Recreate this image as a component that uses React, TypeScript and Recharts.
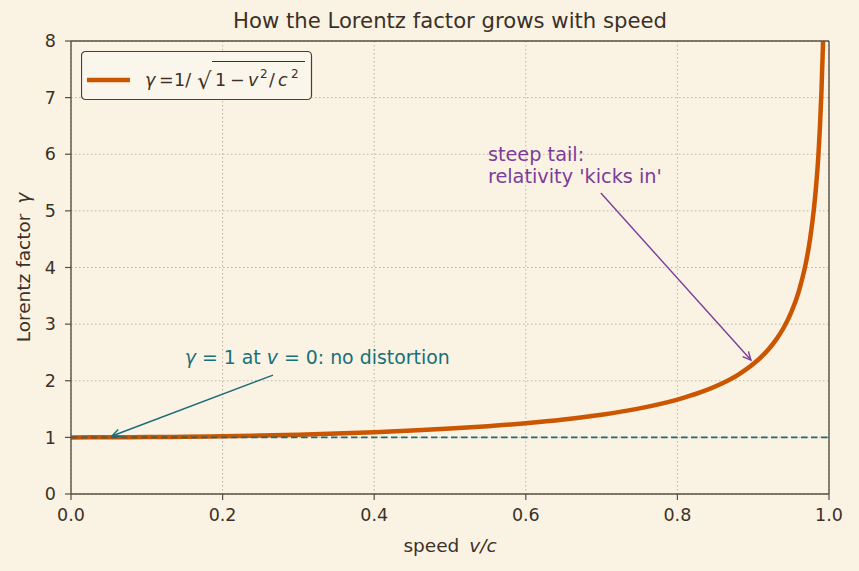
import React from "react";
import {
  ComposedChart,
  Line,
  XAxis,
  YAxis,
  CartesianGrid,
  ReferenceLine,
  ReferenceDot,
} from "recharts";

// speed v/c and the Lorentz factor
const speed = [
  0, 0.05, 0.1, 0.15, 0.2, 0.25, 0.3, 0.35, 0.4, 0.45, 0.5, 0.55, 0.6, 0.65,
  0.7, 0.75, 0.8, 0.83, 0.86, 0.88, 0.9, 0.92, 0.93, 0.94, 0.95, 0.96, 0.965,
  0.97, 0.975, 0.98, 0.983, 0.986, 0.988, 0.99, 0.992, 0.994,
];
const gamma = [
  1.0, 1.001, 1.005, 1.011, 1.021, 1.033, 1.048, 1.068, 1.091, 1.12, 1.155,
  1.197, 1.25, 1.316, 1.4, 1.512, 1.667, 1.793, 1.96, 2.105, 2.294, 2.552,
  2.721, 2.931, 3.203, 3.571, 3.818, 4.113, 4.502, 5.025, 5.439, 5.98, 6.468,
  7.089, 7.917, 9.142,
];

const xTicks = [0, 0.2, 0.4, 0.6, 0.8, 1.0];
const yTicks = [0, 1, 2, 3, 4, 5, 6, 7, 8];

// annotation anchors, in data units (v/c, gamma)
const restText = { v: 0.15, g: 2.3 };
const restArrow = [
  { x: 0.2665, y: 2.1 },
  { x: 0.0541, y: 1.024 },
];
const tailText = { v: 0.55, g: 5.5 };
const tailArrow = [
  { x: 0.699, y: 5.316 },
  { x: 0.897, y: 2.366 },
];

const data = speed.map((v, i) => ({ v, gamma: gamma[i] }));

const BG = "#faf3e3";
const INK = "#3b3128";
const SPINE = "#5a4e44";
const GRID = "#bdb3a3";
const ORANGE = "#cc5500";
const TEAL = "#1c6b78";
const TEAL_TXT = "#17717a";
const PURPLE = "#7a3d9a";
const FONT = "DejaVu Sans";

function Arrow(props: any) {
  const { x1, y1, x2, y2, stroke } = props;
  const ang = Math.atan2(y2 - y1, x2 - x1);
  const len = 9;
  const spread = 0.45;
  const ax = x2 - len * Math.cos(ang - spread);
  const ay = y2 - len * Math.sin(ang - spread);
  const bx = x2 - len * Math.cos(ang + spread);
  const by = y2 - len * Math.sin(ang + spread);
  return (
    <g>
      <line x1={x1} y1={y1} x2={x2} y2={y2} stroke={stroke} strokeWidth={1.4} />
      <polyline
        points={`${ax},${ay} ${x2},${y2} ${bx},${by}`}
        fill="none"
        stroke={stroke}
        strokeWidth={1.4}
      />
    </g>
  );
}

function RestLabel(props: any) {
  const { cx, cy } = props;
  return (
    <text x={cx} y={cy} fill={TEAL_TXT} fontSize={18.9} fontFamily={FONT}>
      <tspan fontStyle="italic">γ</tspan>
      <tspan> = 1 at </tspan>
      <tspan fontStyle="italic">v</tspan>
      <tspan> = 0: no distortion</tspan>
    </text>
  );
}

function TailLabel(props: any) {
  const { cx, cy } = props;
  return (
    <text x={cx} y={cy} fill={PURPLE} fontSize={19.3} fontFamily={FONT}>
      <tspan x={cx} dy={-22}>
        steep tail:
      </tspan>
      <tspan x={cx} dy={22}>
        relativity 'kicks in'
      </tspan>
    </text>
  );
}

function LegendBox() {
  const base = 35;
  return (
    <svg
      width={232}
      height={50}
      style={{ position: "absolute", left: 81, top: 51, display: "block" }}
    >
      <rect
        x={0.5}
        y={0.5}
        width={230}
        height={48}
        rx={4}
        fill="#fbf6ec"
        stroke="#4a3f35"
        strokeWidth={1.2}
      />
      <line x1={6} x2={49} y1={29} y2={29} stroke={ORANGE} strokeWidth={4.5} />
      <g fill={INK} fontSize={17.5} fontFamily={FONT}>
        <text x={64} y={base} fontStyle="italic">γ</text>
        <text x={78} y={base}>=</text>
        <text x={93} y={base}>1/</text>
        <text x={116} y={base + 3} fontSize={23}>√</text>
        <text x={134} y={base}>1</text>
        <text x={149} y={base}>−</text>
        <text x={167} y={base} fontStyle="italic">v</text>
        <text x={179} y={base - 8} fontSize={12}>2</text>
        <text x={188} y={base}>/</text>
        <text x={197} y={base} fontStyle="italic">c</text>
        <text x={210} y={base - 8} fontSize={12}>2</text>
      </g>
      <line x1={131} x2={224} y1={10.5} y2={10.5} stroke={INK} strokeWidth={1} />
    </svg>
  );
}

function XLabel(props: any) {
  const { viewBox } = props;
  const cx = viewBox.x + viewBox.width / 2;
  return (
    <text x={cx} y={viewBox.y + 58} textAnchor="middle" fill={INK} fontSize={18.5} fontFamily={FONT}>
      <tspan>speed</tspan>
      <tspan dx={10} fontStyle="italic">v/c</tspan>
    </text>
  );
}

function YLabel(props: any) {
  const { viewBox } = props;
  const cy = viewBox.y + viewBox.height / 2;
  const x = 30;
  return (
    <text
      x={x}
      y={cy}
      transform={`rotate(-90, ${x}, ${cy})`}
      textAnchor="middle"
      fill={INK}
      fontSize={18.5}
      fontFamily={FONT}
    >
      <tspan>Lorentz factor</tspan>
      <tspan dx={10} fontStyle="italic">γ</tspan>
    </text>
  );
}

export default function App() {
  const tick = { fill: INK, fontSize: 17.5, fontFamily: FONT };
  return (
    <div
      style={{
        position: "absolute",
        left: 0,
        top: 0,
        width: 859,
        height: 571,
        background: BG,
      }}
    >
      <ComposedChart
        width={859}
        height={571}
        data={data}
        margin={{ top: 41, right: 30, bottom: 0, left: 0 }}
      >
        <CartesianGrid
          stroke={GRID}
          strokeDasharray="1.5 2.5"
          horizontalValues={yTicks}
          verticalValues={xTicks}
        />
        <XAxis
          dataKey="v"
          type="number"
          domain={[0, 1]}
          ticks={xTicks}
          tickFormatter={(t: number) => t.toFixed(1)}
          height={77}
          tickSize={6}
          tickMargin={9}
          tick={tick}
          stroke={SPINE}
          axisLine={{ stroke: SPINE, strokeWidth: 1.4 }}
          tickLine={{ stroke: SPINE, strokeWidth: 1.2 }}
          label={{ content: (p: any) => <XLabel {...p} /> }}
        />
        <YAxis
          type="number"
          domain={[0, 8]}
          ticks={yTicks}
          allowDataOverflow
          width={71}
          tickSize={6}
          tickMargin={9}
          tick={tick}
          stroke={SPINE}
          axisLine={{ stroke: SPINE, strokeWidth: 1.4 }}
          tickLine={{ stroke: SPINE, strokeWidth: 1.2 }}
          label={{ content: (p: any) => <YLabel {...p} /> }}
        />
        <Line
          dataKey="gamma"
          type="monotone"
          stroke={ORANGE}
          strokeWidth={4.5}
          dot={false}
          activeDot={false}
          isAnimationActive={false}
        />
        <ReferenceLine y={1} stroke={TEAL} strokeWidth={1.7} strokeDasharray="6.5 3.5" />
        <ReferenceLine y={8} stroke={SPINE} strokeWidth={1.4} />
        <ReferenceLine x={1} stroke={SPINE} strokeWidth={1.4} />
        <ReferenceLine
          segment={restArrow}
          stroke={TEAL}
          shape={(p: any) => <Arrow {...p} />}
        />
        <ReferenceLine
          segment={tailArrow}
          stroke={PURPLE}
          shape={(p: any) => <Arrow {...p} />}
        />
        <ReferenceDot
          x={restText.v}
          y={restText.g}
          r={0}
          shape={(p: any) => <RestLabel {...p} />}
        />
        <ReferenceDot
          x={tailText.v}
          y={tailText.g}
          r={0}
          shape={(p: any) => <TailLabel {...p} />}
        />
      </ComposedChart>
      <div
        style={{
          position: "absolute",
          left: 71,
          top: 9,
          width: 758,
          textAlign: "center",
          fontFamily: FONT,
          fontSize: 21.2,
          lineHeight: "24px",
          color: INK,
        }}
      >
        How the Lorentz factor grows with speed
      </div>
      <LegendBox />
    </div>
  );
}
